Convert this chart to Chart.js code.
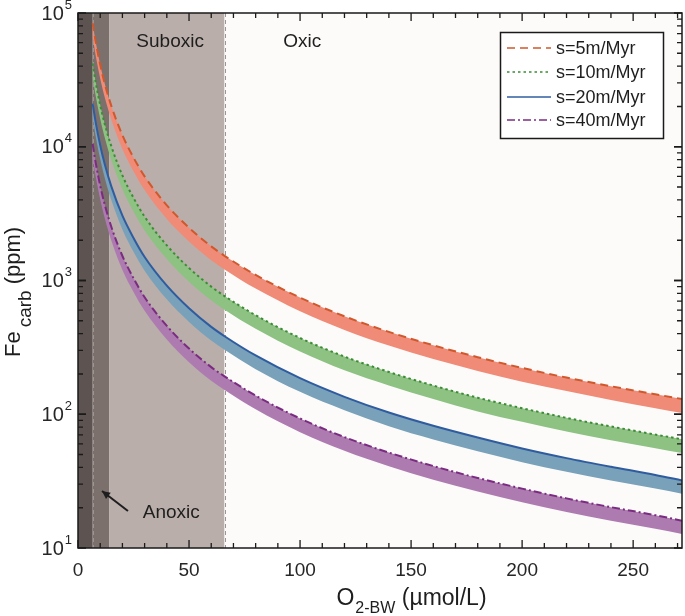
<!DOCTYPE html>
<html>
<head>
<meta charset="utf-8">
<script src="https://cdn.jsdelivr.net/npm/chart.js@4.4.0/dist/chart.umd.min.js"></script>
<style>
body { margin: 0; background: #fff; }
canvas { display: block; }
</style>
</head>
<body>
<canvas id="chart" width="685" height="616"></canvas>
<script>
// O2 bottom water (umol/L)
const o2 = [6.6, 8, 10, 12, 15, 20, 25, 30, 40, 50, 60, 66, 80, 100, 120, 140, 160, 180, 200, 220, 240, 260, 272];

// Fe_carb (ppm), upper edge (drawn line) and lower edge of each band
const s5Hi = [84000, 60500, 41000, 29800, 20200, 12200, 8300, 6000, 3650, 2480, 1800, 1530, 1100, 745, 540, 413, 328, 267, 222, 188, 162, 141, 130];
const s5Lo = [66400, 47800, 32400, 23500, 16000, 9640, 6560, 4740, 2880, 1960, 1420, 1210, 870, 589, 427, 326, 259, 211, 175, 149, 128, 111, 102];
const s10Hi = [42000, 30200, 20500, 14900, 10100, 6100, 4150, 3000, 1830, 1240, 900, 765, 550, 372, 270, 207, 164, 133, 111, 94, 81, 70.5, 65];
const s10Lo = [33200, 23900, 16200, 11800, 8000, 4820, 3280, 2370, 1450, 980, 711, 604, 435, 294, 213, 164, 130, 105, 87.7, 74.3, 64, 55.7, 51.3];
const s20Hi = [21000, 15100, 10250, 7450, 5050, 3050, 2080, 1500, 915, 620, 450, 383, 275, 186, 135, 103, 82, 67, 55.5, 47, 40.5, 35.2, 32];
const s20Lo = [16600, 11900, 8100, 5890, 3990, 2410, 1640, 1185, 723, 490, 356, 303, 217, 147, 107, 81.4, 64.8, 52.9, 43.8, 37.1, 32, 27.8, 25.5];
const s40Hi = [10500, 7550, 5120, 3720, 2520, 1525, 1040, 750, 458, 310, 225, 192, 138, 93, 67.5, 51.7, 41, 33.4, 27.8, 23.5, 20.2, 17.6, 16];
const s40Lo = [8300, 5960, 4050, 2940, 1990, 1200, 822, 593, 362, 245, 178, 152, 109, 73.5, 53.3, 40.8, 32.4, 26.4, 22, 18.6, 16, 13.9, 12.7];

const seriesLabels = ['s=5m/Myr', 's=10m/Myr', 's=20m/Myr', 's=40m/Myr'];
const hiSeries = [s5Hi, s10Hi, s20Hi, s40Hi];
const loSeries = [s5Lo, s10Lo, s20Lo, s40Lo];

// redox zones along O2 axis
const zoneEdges = [0, 6.6, 14, 66, 272];
const zoneColors = ['#5d5350', '#7b706c', '#b9aeaa', '#fcfbfa'];
const zoneDashed = [6.6, 66];

const yDecades = [1, 2, 3, 4, 5];

const lineColors = ['#d0582c', '#3d8b37', '#2f5c9f', '#7a2c80'];
const bandColors = ['#f08b77', '#8dc283', '#79a1b9', '#ae7bb1'];
const lineDashes = [[8, 5], [2.5, 3], [], [8, 3, 2, 3]];

const FONT = '"Liberation Sans", Arial, sans-serif';

const toPoints = (ys) => o2.map((x, i) => ({ x: x, y: ys[i] }));

const datasets = [];
for (let i = 0; i < hiSeries.length; i++) {
    datasets.push({
        label: seriesLabels[i] + ' low',
        data: toPoints(loSeries[i]),
        borderWidth: 0,
        borderColor: 'rgba(0,0,0,0)',
        pointRadius: 0,
        fill: false,
        cubicInterpolationMode: 'monotone'
    });
    datasets.push({
        label: seriesLabels[i],
        data: toPoints(hiSeries[i]),
        borderColor: lineColors[i],
        borderWidth: 2,
        borderDash: lineDashes[i],
        backgroundColor: bandColors[i],
        fill: '-1',
        pointRadius: 0,
        cubicInterpolationMode: 'monotone'
    });
}

const zonesPlugin = {
    id: 'zones',
    beforeDatasetsDraw(chart) {
        const { ctx, chartArea: a, scales: { x } } = chart;
        ctx.save();
        for (let i = 0; i < zoneColors.length; i++) {
            const x0 = x.getPixelForValue(zoneEdges[i]);
            const x1 = x.getPixelForValue(zoneEdges[i + 1]);
            ctx.fillStyle = zoneColors[i];
            ctx.fillRect(x0, a.top, x1 - x0, a.bottom - a.top);
        }
        ctx.strokeStyle = '#9d9593';
        ctx.lineWidth = 1;
        ctx.setLineDash([4, 3]);
        zoneDashed.forEach(v => {
            const px = Math.round(x.getPixelForValue(v)) + 0.5;
            ctx.beginPath();
            ctx.moveTo(px, a.top);
            ctx.lineTo(px, a.bottom);
            ctx.stroke();
        });
        ctx.restore();
    }
};

const annotations = [
    { text: 'Suboxic', x: 41.5, y: 61000 },
    { text: 'Oxic', x: 101, y: 61000 },
    { text: 'Anoxic', x: 42, y: 18.3 }
];
const arrowFrom = { x: 22.5, y: 18.9 };
const arrowTo = { x: 10.8, y: 26.7 };

const decorPlugin = {
    id: 'decor',
    afterDatasetsDraw(chart) {
        const { ctx, scales: { x, y } } = chart;
        ctx.save();
        ctx.fillStyle = '#1e1e1e';
        ctx.font = '19px ' + FONT;
        ctx.textAlign = 'center';
        ctx.textBaseline = 'middle';
        annotations.forEach(t => {
            ctx.fillText(t.text, x.getPixelForValue(t.x), y.getPixelForValue(t.y));
        });
        // arrow
        const fx = x.getPixelForValue(arrowFrom.x), fy = y.getPixelForValue(arrowFrom.y);
        const tx = x.getPixelForValue(arrowTo.x), ty = y.getPixelForValue(arrowTo.y);
        ctx.strokeStyle = '#1e1e1e';
        ctx.lineWidth = 2;
        ctx.beginPath();
        ctx.moveTo(fx, fy);
        ctx.lineTo(tx, ty);
        ctx.stroke();
        const ang = Math.atan2(ty - fy, tx - fx);
        ctx.beginPath();
        ctx.moveTo(tx, ty);
        ctx.lineTo(tx - 9 * Math.cos(ang - 0.45), ty - 9 * Math.sin(ang - 0.45));
        ctx.lineTo(tx - 9 * Math.cos(ang + 0.45), ty - 9 * Math.sin(ang + 0.45));
        ctx.closePath();
        ctx.fill();
        ctx.restore();
    },
    afterDraw(chart) {
        const { ctx, chartArea: a, scales: { x, y } } = chart;
        ctx.save();

        // frame
        ctx.strokeStyle = '#1a1a1a';
        ctx.lineWidth = 1.5;
        ctx.strokeRect(a.left, a.top, a.right - a.left, a.bottom - a.top);

        // x ticks (inside, top and bottom)
        ctx.lineWidth = 1.3;
        for (let v = 0; v <= 270; v += 10) {
            const px = x.getPixelForValue(v);
            const len = v % 50 === 0 ? 8 : 5;
            ctx.beginPath();
            ctx.moveTo(px, a.bottom); ctx.lineTo(px, a.bottom - len);
            ctx.moveTo(px, a.top); ctx.lineTo(px, a.top + len);
            ctx.stroke();
        }
        // y ticks (log, inside, left and right)
        for (let e = 1; e <= 4; e++) {
            for (let m = 1; m <= 10; m++) {
                const py = y.getPixelForValue(m * Math.pow(10, e));
                const len = (m === 1 || m === 10) ? 8 : 5;
                ctx.beginPath();
                ctx.moveTo(a.left, py); ctx.lineTo(a.left + len, py);
                ctx.moveTo(a.right, py); ctx.lineTo(a.right - len, py);
                ctx.stroke();
            }
        }

        // y tick labels 10^n
        ctx.fillStyle = '#262626';
        ctx.textBaseline = 'middle';
        yDecades.forEach(e => {
            const py = y.getPixelForValue(Math.pow(10, e));
            ctx.font = '13px ' + FONT;
            const supW = ctx.measureText(String(e)).width;
            ctx.textAlign = 'left';
            ctx.fillText(String(e), 72 - supW, py - 8);
            ctx.font = '20px ' + FONT;
            ctx.textAlign = 'right';
            ctx.fillText('10', 72 - supW - 1, py + 1);
        });

        // axis titles
        ctx.textAlign = 'left';
        ctx.textBaseline = 'alphabetic';
        ctx.fillStyle = '#1e1e1e';
        // x title
        ctx.font = '23px ' + FONT;
        const wO = ctx.measureText('O').width;
        const wRest = ctx.measureText(' (\u00b5mol/L)').width;
        ctx.font = '16px ' + FONT;
        const wSub = ctx.measureText('2-BW').width;
        let xs = 411 - (wO + wSub + wRest) / 2;
        ctx.font = '23px ' + FONT;
        ctx.fillText('O', xs, 605);
        ctx.font = '16px ' + FONT;
        ctx.fillText('2-BW', xs + wO + 1, 613);
        ctx.font = '23px ' + FONT;
        ctx.fillText(' (\u00b5mol/L)', xs + wO + 1 + wSub, 605);

        // y title (rotated)
        ctx.translate(20, 357);
        ctx.rotate(-Math.PI / 2);
        ctx.font = '22px ' + FONT;
        ctx.fillText('Fe', 0, 0);
        const wFe = ctx.measureText('Fe').width;
        ctx.font = '19px ' + FONT;
        ctx.fillText('carb', wFe + 4, 11);
        const wCarb = ctx.measureText('carb').width;
        ctx.font = '22px ' + FONT;
        ctx.fillText(' (ppm)', wFe + 4 + wCarb, 0);
        ctx.setTransform(1, 0, 0, 1, 0, 0);

        // legend
        const bx = 500.5, by = 32.5, bw = 163, bh = 106;
        ctx.fillStyle = '#ffffff';
        ctx.fillRect(bx, by, bw, bh);
        ctx.strokeStyle = '#1a1a1a';
        ctx.lineWidth = 1.5;
        ctx.strokeRect(bx, by, bw, bh);
        const rows = [48, 72, 97, 120];
        ctx.font = '18px ' + FONT;
        ctx.textBaseline = 'middle';
        seriesLabels.forEach((lab, i) => {
            ctx.strokeStyle = lineColors[i];
            ctx.lineWidth = 1.6;
            ctx.setLineDash(lineDashes[i]);
            ctx.beginPath();
            ctx.moveTo(507, rows[i]);
            ctx.lineTo(551, rows[i]);
            ctx.stroke();
            ctx.setLineDash([]);
            ctx.fillStyle = '#1e1e1e';
            ctx.fillText(lab, 556, rows[i] + 1);
        });
        ctx.restore();
    }
};

new Chart(document.getElementById('chart').getContext('2d'), {
    type: 'line',
    data: { datasets: datasets },
    options: {
        responsive: false,
        animation: false,
        layout: { padding: { left: 0, right: 3, top: 13, bottom: 0 } },
        plugins: {
            legend: { display: false },
            tooltip: { enabled: false }
        },
        scales: {
            x: {
                type: 'linear',
                min: 0,
                max: 272,
                grid: { display: false, drawTicks: false },
                border: { display: false },
                ticks: {
                    stepSize: 50,
                    includeBounds: false,
                    padding: 11,
                    color: '#262626',
                    font: { family: FONT, size: 19 },
                    maxRotation: 0
                },
                afterFit: (s) => { s.height = 68; }
            },
            y: {
                type: 'logarithmic',
                min: 10,
                max: 100000,
                grid: { display: false, drawTicks: false },
                border: { display: false },
                ticks: { display: false },
                afterFit: (s) => { s.width = 78; }
            }
        }
    },
    plugins: [zonesPlugin, decorPlugin]
});
</script>
</body>
</html>
